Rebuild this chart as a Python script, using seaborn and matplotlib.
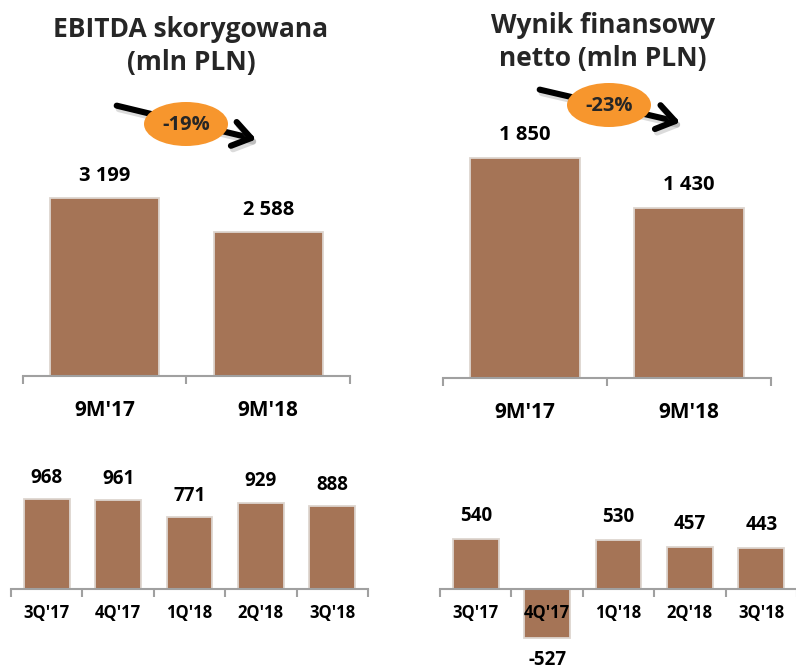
import matplotlib
matplotlib.use("Agg")
import matplotlib.pyplot as plt
import matplotlib.patheffects as pe
from matplotlib.patches import Ellipse, FancyArrowPatch
import pandas as pd
import seaborn as sns

# --- data -------------------------------------------------------------
ytd_periods = ["9M'17", "9M'18"]
ebitda_ytd = [3199, 2588]
net_ytd = [1850, 1430]

quarters = ["3Q'17", "4Q'17", "1Q'18", "2Q'18", "3Q'18"]
ebitda_q = [968, 961, 771, 929, 888]
net_q = [540, -527, 530, 457, 443]

title_ebitda = "EBITDA skorygowana\n(mln PLN)"
title_net = "Wynik finansowy\nnetto (mln PLN)"

# --- style -------------------------------------------------------------
sns.set_theme(style="white")
plt.rcParams["font.family"] = ["Open Sans", "DejaVu Sans"]
plt.rcParams["font.weight"] = "bold"

BAR = "#A57456"
EDGE = "#DDD5CF"
AXIS = "#A0A0A0"
ORANGE = "#F7962D"

W, H = 796, 671
fig = plt.figure(figsize=(W / 100, H / 100), dpi=100)


def px_axes(left, right, top, bottom):
    """Axes placed by pixel edges (origin top-left)."""
    return fig.add_axes([left / W, 1 - bottom / H, (right - left) / W, (bottom - top) / H])


def fmt(v):
    return f"{v:,}".replace(",", " ")


def panel(ax, cats, vals, ylim, width, tick_fs, val_fs, tick_pad, val_pad):
    df = pd.DataFrame({"cat": cats, "val": vals})
    sns.barplot(data=df, x="cat", y="val", ax=ax, color=BAR, width=width,
                edgecolor=EDGE, linewidth=1.3, saturation=1)
    n = len(cats)
    ax.set_xlim(-0.5, n - 0.5)
    ax.set_ylim(*ylim)
    ax.set_axisbelow(False)
    ax.set_xlabel("")
    ax.set_ylabel("")
    ax.set_yticks([])
    for s in ("top", "left", "right"):
        ax.spines[s].set_visible(False)
    ax.spines["bottom"].set_position(("data", 0))
    ax.spines["bottom"].set_color(AXIS)
    ax.spines["bottom"].set_linewidth(1.5)
    ax.set_xticks(range(n))
    ax.set_xticklabels(cats, fontsize=tick_fs, fontweight="bold", color="black")
    ax.set_xticks([i - 0.5 for i in range(n + 1)], minor=True)
    ax.tick_params(axis="x", which="major", length=0, pad=tick_pad)
    ax.tick_params(axis="x", which="minor", length=5.5, width=1.5,
                   color=AXIS, direction="out", bottom=True)
    ax.bar_label(ax.containers[0], labels=[fmt(v) for v in vals],
                 padding=val_pad, fontsize=val_fs, fontweight="bold", color="black")
    ax.patch.set_alpha(0)


ax1 = px_axes(23, 350, 140, 376)
panel(ax1, ytd_periods, ebitda_ytd, (0, 4242), 0.667, 15, 14.5, 17, 9)

ax2 = px_axes(443, 771, 140, 378)
panel(ax2, ytd_periods, net_ytd, (0, 2001), 0.667, 15, 14.5, 17, 9)

ax3 = px_axes(11, 368, 460, 589)
panel(ax3, quarters, ebitda_q, (0, 1387), 0.64, 12, 13.5, 11, 8)

ax4 = px_axes(440, 797, 460, 671)
panel(ax4, quarters, net_q, (-886, 1393), 0.64, 12, 13.5, 11, 9)

# --- titles and change badges -----------------------------------------
ov = fig.add_axes([0, 0, 1, 1], zorder=10)
ov.set_xlim(0, W)
ov.set_ylim(H, 0)
ov.axis("off")

ov.text(191, 46, title_ebitda, ha="center", va="center", fontsize=19,
        fontweight="bold", linespacing=1.3)
ov.text(603, 42, title_net, ha="center", va="center", fontsize=19,
        fontweight="bold", linespacing=1.3)


def badge(start, end, centre, first, last):
    arrow = FancyArrowPatch(start, end, arrowstyle="->,head_length=0.8,head_width=0.55",
                            mutation_scale=16, lw=4.4, color="black",
                            path_effects=[pe.SimpleLineShadow(offset=(1.5, -2.5), alpha=0.2,
                                                              shadow_color="0.3"),
                                          pe.Normal()])
    ov.add_patch(arrow)
    ov.add_patch(Ellipse(centre, 84, 44, facecolor=ORANGE, edgecolor="none", zorder=3))
    pct = round((last / first - 1) * 100)
    ov.text(centre[0], centre[1] + 1, f"{pct}%", ha="center", va="center",
            fontsize=14.5, fontweight="bold", zorder=4)


badge((114, 105), (259, 140), (186, 124), *ebitda_ytd)
badge((537, 89), (683, 123), (609, 105), *net_ytd)

fig.savefig("out.png", dpi=100)
